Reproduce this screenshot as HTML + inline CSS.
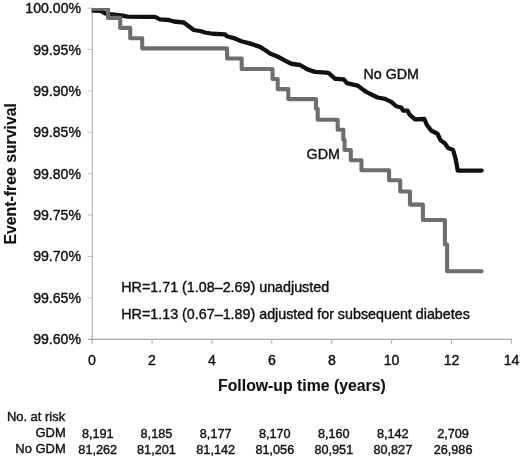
<!DOCTYPE html>
<html lang="en">
<head>
<meta charset="utf-8">
<title>Event-free survival</title>
<style>
html,body{margin:0;padding:0;background:#fff;}
body{width:520px;height:457px;overflow:hidden;}
svg{display:block;will-change:transform;}
text{font-family:"Liberation Sans",Arial,Helvetica,sans-serif;fill:#111;stroke:#111;stroke-width:.4px;}
.tick{font-size:14.1px;}
.ttl{font-size:15.8px;font-weight:bold;stroke-width:.1px;}
.ann{font-size:14.3px;}
.lbl{font-size:14.3px;}
.tbl{font-size:12.95px;}
.num{font-size:12.7px;}
</style>
</head>
<body>
<svg width="520" height="457" viewBox="0 0 520 457">
<rect width="520" height="457" fill="#fff"/>
<!-- axes -->
<g fill="none">
<path stroke="#b4b4b4" stroke-width="1.2" d="M92.2 7.6V343.8"/>
<path stroke="#a9a9a9" stroke-width="1.1" d="M88 339.4H511.8"/>
<path stroke="#c2c2c2" stroke-width="1" d="M87.8 8.1H92M87.8 49.5H92M87.8 90.9H92M87.8 132.3H92M87.8 173.7H92M87.8 215.1H92M87.8 256.5H92M87.8 297.9H92"/>
<path stroke="#b4b4b4" stroke-width="1.1" d="M152.1 339.4V343.8M212.0 339.4V343.8M271.8 339.4V343.8M331.7 339.4V343.8M391.6 339.4V343.8M451.5 339.4V343.8M511.4 339.4V343.8"/>
</g>
<!-- y tick labels -->
<g class="tick" text-anchor="end">
<text x="81" y="13.2">100.00%</text>
<text x="81" y="54.6">99.95%</text>
<text x="81" y="96.0">99.90%</text>
<text x="81" y="137.3">99.85%</text>
<text x="81" y="178.7">99.80%</text>
<text x="81" y="220.1">99.75%</text>
<text x="81" y="261.4">99.70%</text>
<text x="81" y="302.8">99.65%</text>
<text x="81" y="344.2">99.60%</text>
</g>
<!-- x tick labels -->
<g class="tick" text-anchor="middle">
<text x="92" y="365">0</text>
<text x="152" y="365">2</text>
<text x="212" y="365">4</text>
<text x="272" y="365">6</text>
<text x="332" y="365">8</text>
<text x="391.5" y="365">10</text>
<text x="451.5" y="365">12</text>
<text x="511.5" y="365">14</text>
</g>
<clipPath id="plot"><rect x="91.6" y="8" width="420" height="332"/></clipPath>
<g clip-path="url(#plot)">
<!-- No GDM curve -->
<path fill="none" stroke="#111" stroke-width="4.3" stroke-linejoin="round" stroke-linecap="round"
 d="M93 10.6L101 10.9L105 13.3L110 14.2L122.5 15.7L127.5 16.6L145 16.9L155 16.9L160 19.4L168.75 20L173.75 21.5L183.75 22.5L193.75 30L201.25 31.25L205 32.5L212.5 33.75L225 34.4L226.9 36.25L233.75 38.1L241.25 41.25L248.75 43.1L260 46.9L265 50L270 53.5L277.5 56.5L285 60.6L291.25 63.75L300 65L307.5 69.4L315 71.9L326.25 72.6L328.75 73.1L335 78.75L343.75 79.4L346.9 83.1L357.5 85.6L366.25 91.9L377.5 97.5L385 98.9L391.25 101.9L396.25 106.25L401.25 107.5L403.1 110.6L407.5 110.6L409.4 114.4L415 119.4L424.4 119L426.9 125L431.5 130.8L437.5 133.75L440.6 140.3L445 143.5L448.1 148.1L453.1 150L455.6 158.75L457.75 170.6L481.7 170.6"/>
<!-- GDM curve -->
<path fill="none" stroke="#6e6e6e" stroke-width="4.1" stroke-linejoin="round" stroke-linecap="round"
 d="M93 8.6H108V17.9H120.2V27.9H130.2V38.3H142.2V48.4H227.1V58.5H241.7V69H272.5V79.05H277.7V89.1H288.3V99.1H316V108.8H317.7V119.7H337.7V129.7H343.3V139.7H344.6V150H350.8V160.3H361.45V170.3H389.1V180.3H400.2V191.5H409.95V204.6H422.9V220H444.9V244.5H447.1V271.3H481.7"/>
</g>
<!-- labels -->
<text class="lbl" x="363.4" y="78.6">No GDM</text>
<text class="lbl" x="306.6" y="158.7">GDM</text>
<text class="ann" x="121.3" y="292.3">HR=1.71 (1.08–2.69) unadjusted</text>
<text class="ann" x="121.3" y="318.5">HR=1.13 (0.67–1.89) adjusted for subsequent diabetes</text>
<!-- axis titles -->
<text class="ttl" text-anchor="middle" x="301.9" y="390.7">Follow-up time (years)</text>
<text class="ttl" text-anchor="middle" transform="translate(15.7 173.8) rotate(-90)">Event-free survival</text>
<!-- table -->
<g class="tbl">
<text x="6.9" y="420.5">No. at risk</text>
<g text-anchor="end">
<text x="65.7" y="436.7">GDM</text>
<text x="65.7" y="452.6">No GDM</text>
</g>
</g>
<g class="num" text-anchor="middle">
<text x="97.75" y="438.2">8,191</text><text x="156.45" y="438.2">8,185</text><text x="215.7" y="438.2">8,177</text><text x="274.8" y="438.2">8,170</text><text x="333.8" y="438.2">8,160</text><text x="392.8" y="438.2">8,142</text><text x="453.05" y="438.2">2,709</text>
<text x="97.75" y="454">81,262</text><text x="156.45" y="454">81,201</text><text x="215.7" y="454">81,142</text><text x="274.8" y="454">81,056</text><text x="333.8" y="454">80,951</text><text x="392.8" y="454">80,827</text><text x="453.05" y="454">26,986</text>
</g>
</svg>
</body>
</html>
